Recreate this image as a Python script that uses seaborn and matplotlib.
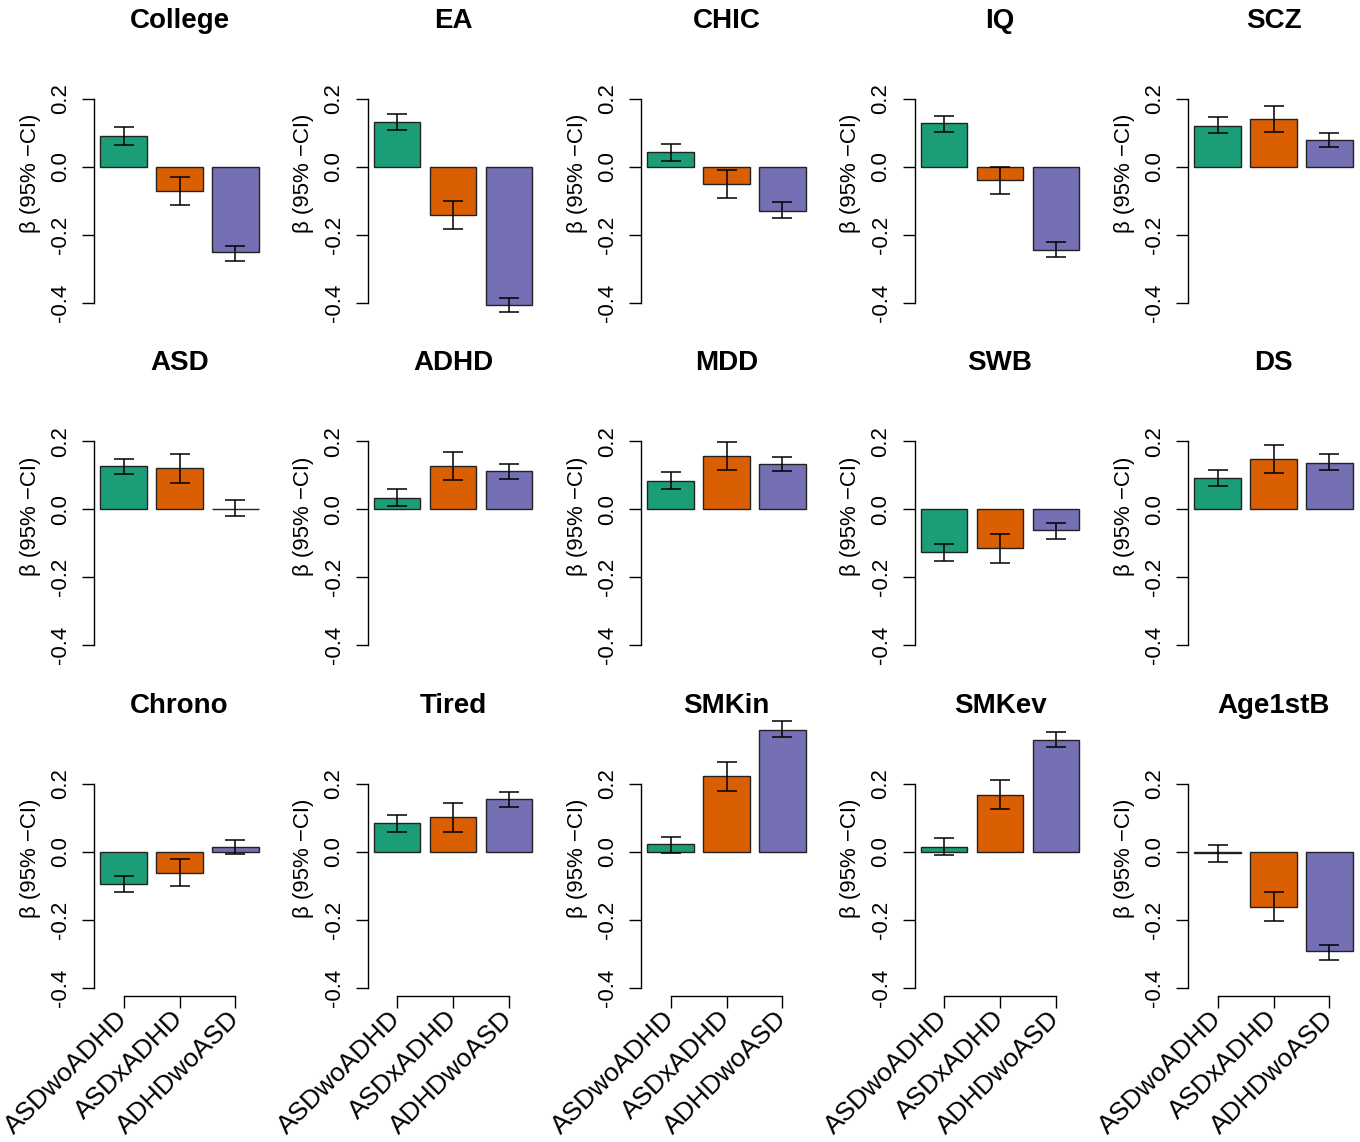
import numpy as np
import pandas as pd
import matplotlib
matplotlib.use("Agg")
import matplotlib.pyplot as plt
import seaborn as sns

traits = ["College", "EA", "CHIC", "IQ", "SCZ",
          "ASD", "ADHD", "MDD", "SWB", "DS",
          "Chrono", "Tired", "SMKin", "SMKev", "Age1stB"]
groups = ["ASDwoADHD", "ASDxADHD", "ADHDwoASD"]
colors = ["#1B9E77", "#D95F02", "#7570B3"]

# beta and 95% CI per trait, one value per group
beta = [
    [0.091, -0.071, -0.251],
    [0.132, -0.142, -0.406],
    [0.042, -0.050, -0.129],
    [0.128, -0.039, -0.244],
    [0.120, 0.141, 0.079],
    [0.128, 0.120, 0.002],
    [0.034, 0.128, 0.111],
    [0.084, 0.157, 0.133],
    [-0.127, -0.115, -0.061],
    [0.092, 0.149, 0.136],
    [-0.095, -0.062, 0.015],
    [0.085, 0.101, 0.156],
    [0.023, 0.222, 0.359],
    [0.014, 0.168, 0.329],
    [-0.005, -0.162, -0.293],
]
ci_low = [
    [0.065, -0.112, -0.276],
    [0.107, -0.182, -0.427],
    [0.016, -0.091, -0.150],
    [0.103, -0.079, -0.265],
    [0.098, 0.103, 0.057],
    [0.103, 0.078, -0.021],
    [0.010, 0.087, 0.088],
    [0.059, 0.115, 0.111],
    [-0.152, -0.157, -0.087],
    [0.067, 0.106, 0.115],
    [-0.119, -0.102, -0.007],
    [0.059, 0.059, 0.131],
    [-0.003, 0.179, 0.338],
    [-0.011, 0.125, 0.308],
    [-0.029, -0.203, -0.319],
]
ci_high = [
    [0.116, -0.029, -0.232],
    [0.156, -0.100, -0.385],
    [0.066, -0.009, -0.104],
    [0.149, 0.000, -0.222],
    [0.145, 0.177, 0.099],
    [0.149, 0.161, 0.026],
    [0.058, 0.169, 0.132],
    [0.108, 0.199, 0.153],
    [-0.101, -0.073, -0.040],
    [0.116, 0.189, 0.161],
    [-0.070, -0.020, 0.035],
    [0.109, 0.142, 0.176],
    [0.044, 0.264, 0.384],
    [0.039, 0.210, 0.351],
    [0.019, -0.118, -0.273],
]
yticks = [-0.4, -0.2, 0.0, 0.2]

sns.set_theme(style="white")
plt.rcParams["font.family"] = ["Liberation Sans", "DejaVu Sans"]
plt.rcParams["axes.unicode_minus"] = False
plt.rcParams["text.color"] = "black"
plt.rcParams["axes.labelcolor"] = "black"

W, H = 1360, 1142
fig = plt.figure(figsize=(W / 100, H / 100), dpi=100)

for i, trait in enumerate(traits):
    r, c = divmod(i, 5)
    left = (94 + 273.5 * c) / W
    top = (90.5 + 342.5 * r) / H
    ax = fig.add_axes([left, 1 - top - 220.5 / H, 171 / W, 220.5 / H])

    df = pd.DataFrame({"group": groups, "beta": beta[i]})
    sns.barplot(data=df, x="group", y="beta", hue="group", palette=colors,
                order=groups, hue_order=groups, width=1 / 1.2, errorbar=None,
                saturation=1, edgecolor="#222222", linewidth=1.0,
                legend=False, ax=ax)
    for p in ax.patches:
        p.set_clip_on(False)

    b = np.array(beta[i])
    lo = np.array(ci_low[i])
    hi = np.array(ci_high[i])
    eb = ax.errorbar(np.arange(3), b, yerr=[b - lo, hi - b], fmt="none",
                     ecolor="black", elinewidth=1.1, capsize=7.5, capthick=1.1)
    for art in list(eb.lines[1]) + list(eb.lines[2]):
        art.set_clip_on(False)

    ax.set_xlim(-0.53, 2.53)
    ax.set_ylim(-0.424, 0.224)
    ax.set_yticks(yticks)
    ax.set_yticklabels([f"{t:.1f}" for t in yticks], rotation=90, va="center",
                       fontsize=16)
    ax.tick_params(axis="y", direction="out", length=8.5, width=1.0, pad=8,
                   color="black", labelcolor="black", left=True)
    ax.set_ylabel("β (95% −CI)", fontsize=16, color="black")
    ax.yaxis.label.set_va("center")
    ax.yaxis.set_label_coords(-0.374, 0.623)
    ax.set_title(trait, fontsize=20, fontweight="bold", pad=45, color="black")
    ax.set_xlabel("")

    for s in ["top", "right"]:
        ax.spines[s].set_visible(False)
    ax.spines["left"].set_bounds(-0.4, 0.2)
    ax.spines["left"].set_color("black")
    ax.spines["left"].set_linewidth(1.0)

    if r == 2:
        ax.spines["bottom"].set_bounds(0, 2)
        ax.spines["bottom"].set_color("black")
        ax.spines["bottom"].set_linewidth(1.0)
        ax.set_xticks(range(3))
        ax.set_xticklabels(groups, rotation=45, ha="right", va="center",
                           rotation_mode="anchor", fontsize=19)
        ax.tick_params(axis="x", direction="out", length=8.5, width=1.0,
                       pad=5, color="black", labelcolor="black", bottom=True)
    else:
        ax.spines["bottom"].set_visible(False)
        ax.set_xticks([])

fig.savefig("out.png", dpi=100)
